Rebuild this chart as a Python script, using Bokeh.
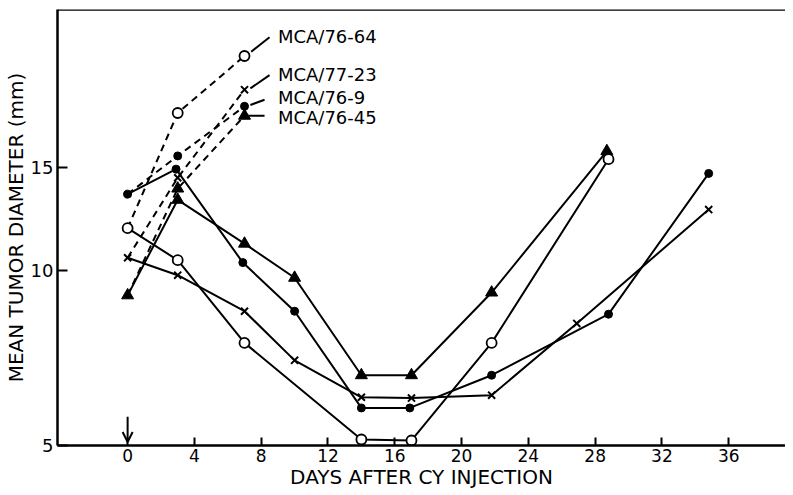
from bokeh.plotting import figure
from bokeh.models import (Range1d, FixedTicker, Span, Arrow, OpenHead,
                          ColumnDataSource, NumeralTickFormatter)
from bokeh.core.properties import value
from bokeh.embed import file_html
from bokeh.resources import INLINE

FONT = "DejaVu Sans"

# ---- data (days after CY injection, mean tumor diameter mm) ----
# after CY (solid lines)
days_7664 = [0, 3, 7, 14, 17, 21.8, 28.8]
vals_7664 = [11.8, 10.4, 7.5, 5.12, 5.10, 7.5, 15.5]

days_7723 = [0, 3, 7, 10, 14, 17, 21.8, 26.9, 34.8]
vals_7723 = [10.5, 9.8, 8.5, 7.0, 6.05, 6.03, 6.1, 8.1, 12.7]

days_769 = [0, 2.9, 6.9, 10, 14, 16.9, 21.8, 28.8, 34.8]
vals_769 = [13.5, 14.9, 10.3, 8.5, 5.8, 5.8, 6.6, 8.4, 14.65]

days_7645 = [0, 3, 7, 10, 14, 17, 21.8, 28.7]
vals_7645 = [9.05, 13.2, 11.1, 9.7, 6.6, 6.6, 9.15, 16.0]

# before CY (dashed lines)
pre_days = [0, 3, 7]
pre_7664 = [11.8, 18.6, 23.3]
pre_7723 = [10.5, 14.4, 20.4]
pre_769 = [13.5, 15.7, 19.1]
pre_7645 = [9.05, 13.8, 18.4]

# series labels and their leader lines
label_names = ["MCA/76-64", "MCA/77-23", "MCA/76-9", "MCA/76-45"]
label_day = [9.0, 9.0, 9.0, 9.0]
label_val = [25.2, 21.7, 19.8, 18.3]
leader_day0 = [7.4, 7.35, 7.35, 7.1]
leader_val0 = [23.7, 20.5, 19.2, 18.4]
leader_day1 = [8.5, 8.5, 8.2, 8.2]
leader_val1 = [25.1, 21.6, 19.6, 18.4]

x_ticks = [0, 4, 8, 12, 16, 20, 24, 28, 32, 36]
y_ticks = [5, 10, 15]
x_title = "DAYS AFTER CY INJECTION"
y_title = "MEAN TUMOR DIAMETER (mm)"

# injection arrow
arrow_day = 0
arrow_from = 5.6
arrow_to = 5.07

p = figure(width=785, height=494, output_backend="svg", toolbar_location=None,
           x_range=Range1d(-4.2, 39.4), y_range=Range1d(5.0, 28.0),
           y_axis_type="log",
           min_border_left=49, min_border_right=0, min_border_top=9,
           min_border_bottom=49)
p.outline_line_color = None
p.background_fill_color = "white"
p.border_fill_color = "white"
p.xgrid.visible = False
p.ygrid.visible = False

for ax in (p.xaxis[0], p.yaxis[0]):
    ax.axis_line_width = 2.5
    ax.axis_line_color = "black"
    ax.major_tick_out = 0
    ax.major_tick_line_width = 2
    ax.major_tick_line_color = "black"
    ax.minor_tick_line_color = None
    ax.major_label_text_font = FONT
    ax.major_label_text_color = "black"
    ax.axis_label_text_font = FONT
    ax.axis_label_text_font_style = "normal"
    ax.axis_label_text_color = "black"

p.xaxis.ticker = FixedTicker(ticks=x_ticks)
p.xaxis.major_tick_in = 8
p.xaxis.major_label_standoff = 3
p.xaxis.major_label_text_font_size = "17px"
p.xaxis.axis_label = x_title
p.xaxis.axis_label_text_font_size = "20px"
p.xaxis.axis_label_standoff = 0

p.yaxis.ticker = FixedTicker(ticks=y_ticks)
p.yaxis.formatter = NumeralTickFormatter(format="0")
p.yaxis.major_tick_in = 10
p.yaxis.major_label_standoff = 4
p.yaxis.major_label_text_font_size = "18px"
p.yaxis.axis_label = y_title
p.yaxis.axis_label_text_font_size = "20px"
p.yaxis.axis_label_standoff = 0

p.add_layout(Span(location=28.0, dimension="width", line_color="black",
                  line_width=2.5))

# dashed pre-treatment lines
dash = "7 5"
for vals in (pre_7664, pre_7723, pre_769, pre_7645):
    p.line(pre_days, vals, line_color="black", line_width=2, line_dash=dash)

# solid lines
for d, v in ((days_7664, vals_7664), (days_7723, vals_7723),
             (days_769, vals_769), (days_7645, vals_7645)):
    p.line(d, v, line_color="black", line_width=2)

# leader lines to labels
p.segment(leader_day0, leader_val0, leader_day1, leader_val1,
          line_color="black", line_width=2)

# markers
p.scatter(days_7645 + pre_days[1:], vals_7645 + pre_7645[1:], marker="triangle",
          size=12, fill_color="black", line_color="black")
p.scatter(days_769 + pre_days[1:], vals_769 + pre_769[1:], marker="circle",
          size=8, fill_color="black", line_color="black")
p.scatter(days_7723 + pre_days[1:], vals_7723 + pre_7723[1:], marker="x",
          size=10, line_color="black", line_width=2)
p.scatter(days_7664 + pre_days[1:], vals_7664 + pre_7664[1:], marker="circle",
          size=10, fill_color="white", line_color="black", line_width=1.8)

p.text(label_day, label_val, text=label_names, text_font=value(FONT),
       text_font_size="18px", text_color="black", text_baseline="middle",
       text_align="left")

arrow_src = ColumnDataSource(dict(x0=[arrow_day], y0=[arrow_from],
                                  x1=[arrow_day], y1=[arrow_to]))
p.add_layout(Arrow(source=arrow_src, x_start="x0", y_start="y0", x_end="x1",
                   y_end="y1", line_width=2, line_color="black",
                   end=OpenHead(size=10, line_width=2, line_color="black")))

open("out.html", "w").write(file_html(p, INLINE))
